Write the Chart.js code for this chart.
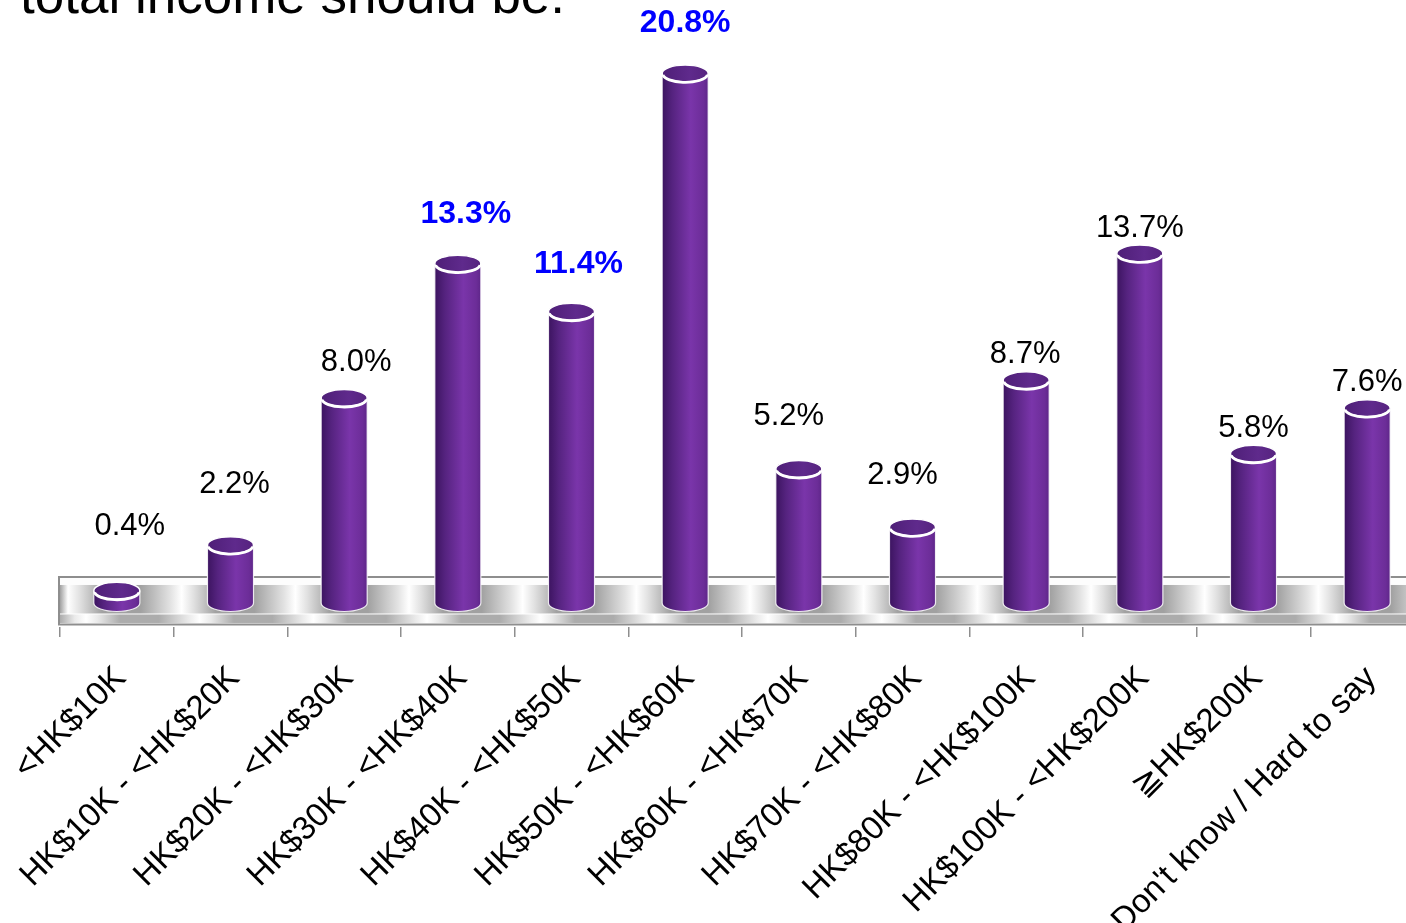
<!DOCTYPE html>
<html>
<head>
<meta charset="utf-8">
<script src="https://cdn.jsdelivr.net/npm/chart.js@4.4.1/dist/chart.umd.min.js"></script>
<style>
  html, body { margin: 0; padding: 0; background: #fff; overflow: hidden; }
  #wrap { width: 1406px; height: 923px; overflow: hidden; position: relative; }
  canvas { display: block; }
</style>
</head>
<body>
<div id="wrap"><canvas id="c" width="1440" height="923"></canvas></div>
<script>
// Monthly household income brackets and share of respondents (%)
const categories = [
  '<HK$10K',
  'HK$10K - <HK$20K',
  'HK$20K - <HK$30K',
  'HK$30K - <HK$40K',
  'HK$40K - <HK$50K',
  'HK$50K - <HK$60K',
  'HK$60K - <HK$70K',
  'HK$70K - <HK$80K',
  'HK$80K - <HK$100K',
  'HK$100K - <HK$200K',
  '\u2267HK$200K',
  "Don't know / Hard to say"
];
const shares = [0.4, 2.2, 8.0, 13.3, 11.4, 20.8, 5.2, 2.9, 8.7, 13.7, 5.8, 7.6];
const valueLabels = shares.map(v => v.toFixed(1) + '%');
const titleText = 'total income should be:';

// presentation settings
const highlighted = [3, 4, 5];               // labels shown in bold blue
const labelNudge = [                         // [dx, dy] label tweaks in px
  [13, -39], [4, -35], [12, -10], [8, -24], [7, -22], [0, -24],
  [-10, -27], [-10, -26], [-1, 0], [0, 0], [0, 0], [0, 0]
];
const FONT = "'Liberation Sans', Arial, 'DejaVu Sans', sans-serif";

// grey platform the cylinders stand on
const platformPlugin = {
  id: 'platform',
  beforeDatasetsDraw(chart) {
    const { ctx, chartArea: a, scales: { y } } = chart;
    const zero = y.getPixelForValue(0);
    const left = a.left, right = a.right;
    const W = (right - left) / categories.length;
    const topY = zero - 24, faceTop = zero - 16, faceBot = zero + 12.5, lowBot = zero + 22, botY = zero + 23.5;

    function bandGradient(shift, light, mid) {
      const g = ctx.createLinearGradient(left, 0, right, 0);
      const span = right - left;
      const stops = [[left, mid]];
      for (let i = 0; i <= categories.length; i++) {
        const b = left + i * W + shift;
        stops.push([b - W * 0.36, mid]);
        stops.push([b - W * 0.1, light]);
        stops.push([b, '#ffffff']);
        stops.push([b + W * 0.1, light]);
        stops.push([b + W * 0.3, mid]);
      }
      let last = -1;
      stops.forEach(([px, c]) => {
        let t = (px - left) / span;
        if (t < 0 || t > 1) return;
        if (t <= last) t = last + 1e-6;
        if (t > 1) return;
        g.addColorStop(t, c);
        last = t;
      });
      return g;
    }

    ctx.save();
    // top face
    ctx.fillStyle = '#fdfdfd';
    ctx.fillRect(left, topY, right - left, faceTop - topY);
    // front face
    ctx.fillStyle = bandGradient(8, '#e2e2e2', '#a1a1a1');
    ctx.fillRect(left, faceTop, right - left, faceBot - faceTop);
    // lower lip
    ctx.fillStyle = bandGradient(26, '#eaeaea', '#acacac');
    ctx.fillRect(left, faceBot + 1, right - left, lowBot - faceBot - 1);
    // outline
    ctx.strokeStyle = '#8e8e8e';
    ctx.lineWidth = 2;
    ctx.beginPath();
    ctx.moveTo(right + 5, topY);
    ctx.lineTo(left - 1, topY);
    ctx.lineTo(left - 1, botY);
    ctx.lineTo(right + 5, botY);
    ctx.stroke();
    ctx.restore();
  }
};

function drawCylinder(ctx, cx, top, base, w) {
  const rx = w / 2, ry = 8.5;
  const l = cx - rx, r = cx + rx;
  const bottom = base + 2;
  const g = ctx.createLinearGradient(l, 0, r, 0);
  g.addColorStop(0, '#3c1460');
  g.addColorStop(0.22, '#55237f');
  g.addColorStop(0.62, '#7a35aa');
  g.addColorStop(0.9, '#6c2d98');
  g.addColorStop(1, '#5e2689');

  ctx.beginPath();
  ctx.moveTo(l, top);
  ctx.lineTo(l, bottom);
  ctx.ellipse(cx, bottom, rx, ry, 0, Math.PI, 0, true);
  ctx.lineTo(r, top);
  ctx.ellipse(cx, top, rx, ry, 0, 0, Math.PI, false);
  ctx.closePath();
  ctx.fillStyle = g;
  ctx.fill();
  ctx.strokeStyle = 'rgba(255,255,255,0.85)';
  ctx.lineWidth = 1.2;
  ctx.stroke();

  // lid
  const lg = ctx.createLinearGradient(l, 0, r, 0);
  lg.addColorStop(0, '#4e1f77');
  lg.addColorStop(0.6, '#5f2a8c');
  lg.addColorStop(1, '#56237f');
  ctx.beginPath();
  ctx.ellipse(cx, top, rx, ry, 0, 0, Math.PI * 2);
  ctx.fillStyle = lg;
  ctx.fill();
  ctx.strokeStyle = '#ffffff';
  ctx.lineWidth = 1.5;
  ctx.stroke();
  ctx.beginPath();
  ctx.ellipse(cx, top + 0.7, rx - 0.7, ry - 0.3, 0, 0.1, Math.PI - 0.1, false);
  ctx.lineWidth = 2.8;
  ctx.stroke();
}

const cylinderPlugin = {
  id: 'cylinders',
  afterDatasetsDraw(chart) {
    const { ctx } = chart;
    const meta = chart.getDatasetMeta(0);
    ctx.save();
    meta.data.forEach(bar => {
      drawCylinder(ctx, bar.x, bar.y, bar.base, bar.width);
    });
    // value labels
    meta.data.forEach((bar, i) => {
      const hi = highlighted.includes(i);
      ctx.font = (hi ? 'bold 32px ' : '31px ') + FONT;
      ctx.fillStyle = hi ? '#0000ff' : '#000000';
      ctx.textAlign = 'center';
      ctx.textBaseline = 'alphabetic';
      const [dx, dy] = labelNudge[i];
      ctx.fillText(valueLabels[i], bar.x + dx, bar.y - 17 + dy);
    });
    ctx.restore();
  }
};

const titlePlugin = {
  id: 'topTitle',
  afterDraw(chart) {
    const { ctx } = chart;
    ctx.save();
    ctx.font = '53px ' + FONT;
    ctx.fillStyle = '#000';
    ctx.textAlign = 'left';
    ctx.textBaseline = 'alphabetic';
    ctx.fillText(titleText, 20, 13);
    ctx.restore();
  }
};

new Chart(document.getElementById('c'), {
  type: 'bar',
  data: {
    labels: categories,
    datasets: [{
      data: shares,
      backgroundColor: 'rgba(0,0,0,0)',
      borderWidth: 0,
      barPercentage: 0.405,
      categoryPercentage: 1
    }]
  },
  options: {
    responsive: false,
    animation: false,
    events: [],
    layout: { padding: { left: 60, right: 16, top: 43, bottom: 0 } },
    plugins: { legend: { display: false }, tooltip: { enabled: false }, title: { display: false } },
    scales: {
      x: {
        offset: true,
        border: { display: false },
        grid: { offset: true, drawOnChartArea: false, drawTicks: true, tickLength: 10, color: '#8e8e8e', lineWidth: 1.5 },
        ticks: {
          autoSkip: false,
          maxRotation: 45,
          minRotation: 45,
          padding: 22,
          labelOffset: 4,
          color: '#000',
          font: { family: FONT, size: 33 }
        },
        afterFit(scale) {
          scale.height = 296;
          scale.paddingLeft = 0;
          scale.paddingRight = 0;
        }
      },
      y: {
        display: false,
        min: -1.026,
        max: 22
      }
    }
  },
  plugins: [platformPlugin, cylinderPlugin, titlePlugin]
});
</script>
</body>
</html>
